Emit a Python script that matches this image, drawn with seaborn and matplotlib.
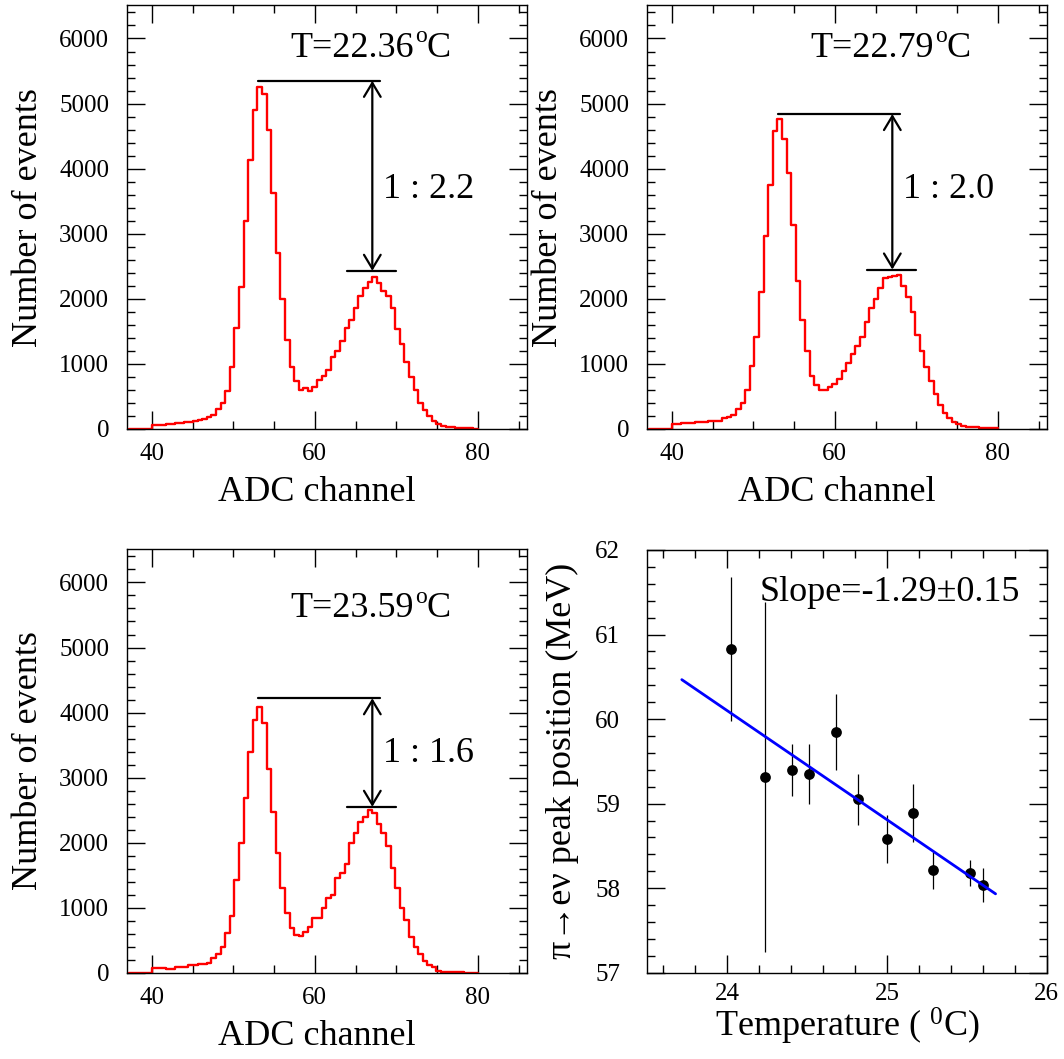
import numpy as np
import pandas as pd
import matplotlib
matplotlib.use("Agg")
import matplotlib.pyplot as plt
import seaborn as sns
from matplotlib.ticker import MultipleLocator
from matplotlib.patches import ArrowStyle

# ---------------- data ----------------
bin_lo = 40.0
bin_hi = 80.0
n_bins = 71
n_empty = 5   # empty bins left of 40

counts_2236 = [60, 55, 60, 70, 80, 85, 95, 110, 115, 125, 135, 155, 190, 210, 310, 400,
               590, 960, 1550, 2180, 3190, 4130, 4900, 5250, 5150, 4600, 3620, 2700, 1990, 1370,
               950, 740, 600, 630, 580, 650, 760, 810, 900, 1110, 1200, 1350, 1550, 1680, 1860,
               2050, 2170, 2260, 2340, 2250, 2120, 2050, 1860, 1530, 1310, 1030, 800, 600, 400,
               285, 200, 120, 80, 45, 30, 25, 15, 12, 10, 8, 5]
counts_2279 = [72, 80, 87, 87, 95, 100, 103, 110, 120, 123, 125, 164, 190, 215, 303, 405,
               600, 970, 1420, 2100, 2970, 3750, 4580, 4770, 4460, 3930, 3140, 2280, 1680, 1200,
               820, 670, 600, 600, 640, 690, 775, 890, 1010, 1160, 1280, 1420, 1640, 1860, 1990,
               2170, 2320, 2330, 2345, 2370, 2200, 2030, 1800, 1450, 1200, 960, 745, 540, 370,
               240, 165, 105, 72, 50, 36, 30, 26, 20, 15, 10, 8]
counts_2359 = [72, 72, 72, 56, 56, 92, 92, 92, 113, 113, 133, 133, 154, 220, 287, 400,
               605, 872, 1426, 1990, 2682, 3395, 3887, 4092, 3836, 3133, 2467, 1846, 1297, 913,
               692, 579, 564, 620, 697, 836, 836, 990, 1144, 1195, 1451, 1528, 1672, 1990, 2154,
               2323, 2400, 2503, 2462, 2282, 2144, 1954, 1605, 1297, 990, 810, 554, 400, 287,
               180, 118, 82, 31, 10, 8, 6, 5, 4, 3, 2, 2]

temp_labels = ["22.36", "22.79", "23.59"]
ratio_labels = ["1 : 2.2", "1 : 2.0", "1 : 1.6"]
line_hi = [5350, 4840, 4220]        # upper reference line (events)
line_lo = [2430, 2450, 2550]        # lower reference line (events)
ratio_text_y = [3685, 3677, 3368]
temp_text_y = [5720, 5720, 5462]
line_hi_x = [53.0, 68.0]
line_lo_x = [64.0, 70.0]
arrow_x = 67.06

temperature = [24.025, 24.235, 24.405, 24.51, 24.68, 24.82, 25.0, 25.16, 25.29, 25.52, 25.60]
peak_pos = [60.83, 59.32, 59.40, 59.35, 59.85, 59.05, 58.58, 58.89, 58.21, 58.18, 58.04]
peak_err = [0.85, 2.07, 0.31, 0.35, 0.45, 0.30, 0.28, 0.34, 0.22, 0.15, 0.20]
fit_slope = -1.29
fit_intercept = 91.06
fit_x = [23.716, 25.68]

# ---------------- style ----------------
sns.set_theme(style="ticks")
plt.rcParams["font.family"] = ["Liberation Serif", "DejaVu Serif"]
plt.rcParams["mathtext.fontset"] = "custom"
plt.rcParams["mathtext.rm"] = "Liberation Serif"
plt.rcParams["mathtext.it"] = "Liberation Serif:italic"
plt.rcParams["mathtext.bf"] = "Liberation Serif:bold"
for k in ["text.color", "axes.labelcolor", "xtick.color", "ytick.color", "axes.edgecolor"]:
    plt.rcParams[k] = "black"

W, H = 1064, 1059
fig = plt.figure(figsize=(W / 100, H / 100), dpi=100)

def px_axes(x0, y0, x1, y1):
    return fig.add_axes([x0 / W, 1 - y1 / H, (x1 - x0) / W, (y1 - y0) / H])

ax_tl = px_axes(127.3, 5.3, 526.7, 429)
ax_tr = px_axes(647.3, 5.3, 1046.7, 429)
ax_bl = px_axes(127.3, 549.3, 526.7, 972.7)
ax_br = px_axes(647.3, 550, 1046.7, 972.7)

BIG = 26
TICK = 18

def style_axes(ax, ypad, xpad):
    for s in ax.spines.values():
        s.set_linewidth(1.0)
        s.set_color("black")
    ax.tick_params(which="both", direction="in", top=True, right=True, color="black",
                   labelcolor="black")
    ax.tick_params(which="major", length=13, width=1.0, labelsize=TICK)
    ax.tick_params(which="minor", length=6, width=1.0)
    ax.tick_params(axis="y", which="major", pad=ypad)
    ax.tick_params(axis="x", which="major", pad=xpad)

w = (bin_hi - bin_lo) / n_bins
edges = bin_lo + w * np.arange(-n_empty, n_bins + 1)

hist_axes = [ax_tl, ax_tr, ax_bl]
hist_counts = [counts_2236, counts_2279, counts_2359]
for i, (ax, cnt) in enumerate(zip(hist_axes, hist_counts)):
    vals = np.concatenate([np.zeros(n_empty), np.asarray(cnt, float)])
    df = pd.DataFrame({"adc": edges, "events": np.append(vals, vals[-1])})
    sns.lineplot(data=df, x="adc", y="events", drawstyle="steps-post",
                 color="red", linewidth=1.7, ax=ax)
    ax.set_xlim(37, 86)
    ax.set_ylim(0, 6510)
    ax.xaxis.set_major_locator(MultipleLocator(20))
    ax.xaxis.set_minor_locator(MultipleLocator(5))
    ax.yaxis.set_major_locator(MultipleLocator(1000))
    ax.yaxis.set_minor_locator(MultipleLocator(200))
    style_axes(ax, ypad=13, xpad=10)
    ax.set_xlabel("ADC channel", fontsize=BIG, color="black")
    ax.xaxis.set_label_coords(0.474, -0.17)
    ax.xaxis.label.set_verticalalignment("baseline")
    ax.set_ylabel("Number of events", fontsize=BIG, color="black")
    ax.yaxis.set_label_coords(-0.2265, 0.5)
    ax.yaxis.label.set_verticalalignment("baseline")

    # reference lines and arrow
    ax.plot(line_hi_x, [line_hi[i]] * 2, color="black", lw=1.6)
    ax.plot(line_lo_x, [line_lo[i]] * 2, color="black", lw=1.6)
    ax.annotate("", xy=(arrow_x, line_lo[i]), xytext=(arrow_x, line_hi[i]),
                arrowprops=dict(arrowstyle=ArrowStyle("<->", head_length=0.5, head_width=0.3),
                                color="black", lw=1.6, shrinkA=0, shrinkB=0,
                                mutation_scale=20))
    ax.text(68.4, ratio_text_y[i], ratio_labels[i], fontsize=BIG, va="center", ha="left",
            color="black")
    # temperature text: "T=xx.xx" + raised "o" + "C"
    ty = temp_text_y[i]
    t_main = ax.text(57.0, ty, "T=" + temp_labels[i], fontsize=BIG,
                     va="baseline", ha="left", color="black")
    t_sup = ax.annotate("o", xy=(1, ty), xycoords=(t_main, "data"), xytext=(0.6, 10.5),
                        textcoords="offset points", fontsize=17, va="baseline", ha="left",
                        color="black")
    ax.annotate("C", xy=(1, ty), xycoords=(t_sup, "data"), xytext=(0, 0),
                textcoords="offset points", fontsize=BIG, va="baseline", ha="left",
                color="black")

# ---------------- temperature dependence ----------------
ax = ax_br
ax.errorbar(temperature, peak_pos, yerr=peak_err, fmt="none", ecolor="black",
            elinewidth=0.9, capsize=0, zorder=2)
sns.scatterplot(x=temperature, y=peak_pos, color="black", s=60, edgecolor="black",
                linewidth=0, ax=ax, zorder=3)
fx = np.array(fit_x)
sns.lineplot(x=fx, y=fit_intercept + fit_slope * fx, color="blue", linewidth=2.0, ax=ax,
             zorder=4)
ax.set_xlim(23.5, 26.0)
ax.set_ylim(57, 62)
ax.xaxis.set_major_locator(MultipleLocator(1))
ax.xaxis.set_minor_locator(MultipleLocator(0.2))
ax.yaxis.set_major_locator(MultipleLocator(1))
ax.yaxis.set_minor_locator(MultipleLocator(0.2))
style_axes(ax, ypad=19.5, xpad=7.5)
ax.text(24.204, 61.40, "Slope=-1.29\u00b10.15", fontsize=BIG, va="baseline", ha="left",
        color="black")
ax.set_xlabel(r"Temperature ( $\mathregular{^{0}}$C)", fontsize=BIG, color="black")
ax.xaxis.set_label_coords(0.501, -0.152)
ax.xaxis.label.set_verticalalignment("baseline")
ax.set_ylabel("\u03c0\u2192e\u03bd peak position (MeV)", fontsize=BIG, color="black")
ax.yaxis.set_label_coords(-0.19, 0.5)
ax.yaxis.label.set_verticalalignment("baseline")

fig.savefig("out.png", dpi=100)
